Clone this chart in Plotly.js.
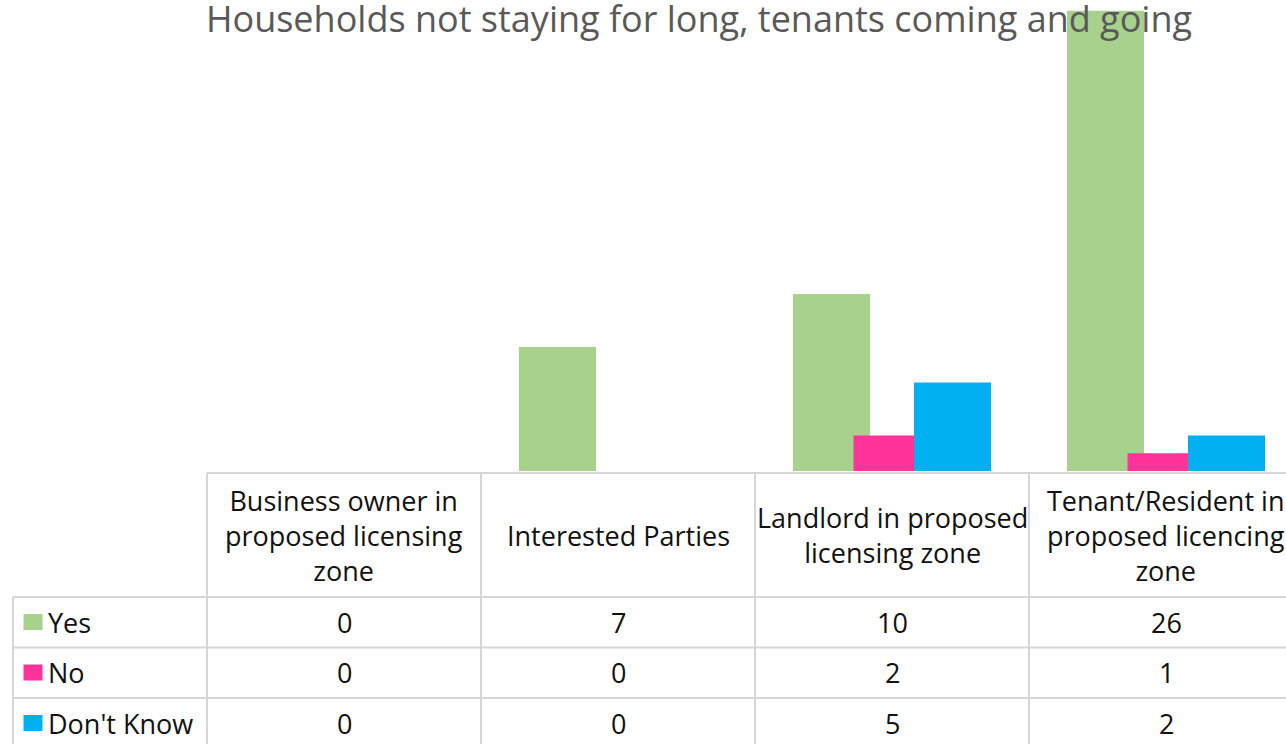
<!DOCTYPE html>
<html>
<head>
<meta charset="utf-8">
<script src="https://cdn.plot.ly/plotly-3.0.1.min.js"></script>
<style>
  html, body { margin: 0; padding: 0; overflow: hidden; background: #fff; }
  #chart { width: 1310px; height: 760px; }
</style>
</head>
<body>
<div id="chart"></div>
<script>
// ---- data ----
const categories = [
  "Business owner in proposed licensing zone",
  "Interested Parties",
  "Landlord in proposed licensing zone",
  "Tenant/Resident in proposed licencing zone"
];
const headerLabels = [
  "Business owner in<br>proposed licensing<br>zone",
  "Interested Parties",
  "Landlord in proposed<br>licensing zone",
  "Tenant/Resident in<br>proposed licencing<br>zone"
];
const seriesNames = ["Yes", "No", "Don't Know"];
const yesValues = [0, 7, 10, 26];
const noValues = [0, 0, 2, 1];
const dontKnowValues = [0, 0, 5, 2];
const titleText = "Households not staying for long, tenants coming and going";

// ---- styling / geometry ----
const colors = ["#A9D18E", "#FF3399", "#00B0F0"];
const W = 1310, H = 760, ML = 207, MR = 7, PH = 471;
const PW = W - ML - MR;
const xp = X => (X - ML) / PW;          // pixel -> paper x
const yp = Y => (PH - Y) / PH;          // pixel -> paper y
const barW = 0.281, step = 0.2208;
const offsets = [-step - barW / 2, -barW / 2, step - barW / 2];
const seriesValues = [yesValues, noValues, dontKnowValues];

const traces = seriesValues.map((vals, i) => ({
  type: "bar",
  name: seriesNames[i],
  x: categories,
  y: vals,
  width: barW,
  offset: offsets[i],
  marker: { color: colors[i], line: { width: 0 } },
  showlegend: false,
  hoverinfo: "x+y+name"
}));

// table geometry in pixels
const headTop = 473, headBottom = 597;
const rowLines = [647.5, 698, 748.5];
const tableLeft = 13, tableRight = 1303;
const rowCenters = [622, 672.5, 723];
const gridColor = "#D6D6D6";
const lineStyle = { color: gridColor, width: 2 };

const shapes = [];
const hline = (Y, X0, X1) => shapes.push({ type: "line", xref: "paper", yref: "paper",
  x0: xp(X0), x1: xp(X1), y0: yp(Y), y1: yp(Y), line: lineStyle, layer: "above" });
const vline = (X, Y0, Y1) => shapes.push({ type: "line", xref: "paper", yref: "paper",
  x0: xp(X), x1: xp(X), y0: yp(Y0), y1: yp(Y1), line: lineStyle, layer: "above" });

hline(headTop, ML, tableRight);
hline(headBottom, tableLeft, tableRight);
rowLines.forEach(Y => hline(Y, tableLeft, tableRight));
vline(tableLeft, headBottom, rowLines[2]);
for (let i = 0; i <= categories.length; i++) {
  vline(ML + i * PW / categories.length, headTop, rowLines[2]);
}
// legend keys
rowCenters.forEach((Y, i) => shapes.push({ type: "rect", xref: "paper", yref: "paper",
  x0: xp(23.5), x1: xp(42.5), y0: yp(Y + 8), y1: yp(Y - 8),
  fillcolor: colors[i], line: { width: 0 }, layer: "above" }));

const tableFont = { family: "Open Sans, sans-serif", size: 27, color: "#111111" };
const annotations = [];
headerLabels.forEach((lab, j) => annotations.push({
  xref: "x", yref: "paper", x: categories[j], y: yp((headTop + headBottom) / 2),
  text: lab, showarrow: false, xanchor: "center", yanchor: "middle",
  align: "center", font: tableFont
}));
seriesValues.forEach((vals, i) => {
  annotations.push({
    xref: "paper", yref: "paper", x: xp(46), y: yp(rowCenters[i]),
    text: seriesNames[i], showarrow: false, xanchor: "left", yanchor: "middle",
    font: tableFont
  });
  vals.forEach((v, j) => annotations.push({
    xref: "x", yref: "paper", x: categories[j], y: yp(rowCenters[i]),
    text: String(v), showarrow: false, xanchor: "center", yanchor: "middle",
    font: tableFont
  }));
});

const layout = {
  width: W, height: H,
  margin: { l: ML, r: MR, t: 0, b: H - PH, pad: 0 },
  paper_bgcolor: "#ffffff", plot_bgcolor: "#ffffff",
  barmode: "overlay",
  title: {
    text: titleText,
    font: { family: "Open Sans, sans-serif", size: 36, color: "#595959" },
    xref: "container", yref: "container",
    x: 699 / W, xanchor: "center", y: 1 - 19 / H, yanchor: "middle"
  },
  xaxis: { type: "category", range: [-0.5, 3.5], showticklabels: false,
    showgrid: false, zeroline: false, showline: false, ticks: "" },
  yaxis: { range: [0, PH / 17.7], visible: false, showgrid: false, zeroline: false },
  shapes: shapes,
  annotations: annotations
};

Plotly.newPlot("chart", traces, layout, { displayModeBar: false, staticPlot: true });
</script>
</body>
</html>
